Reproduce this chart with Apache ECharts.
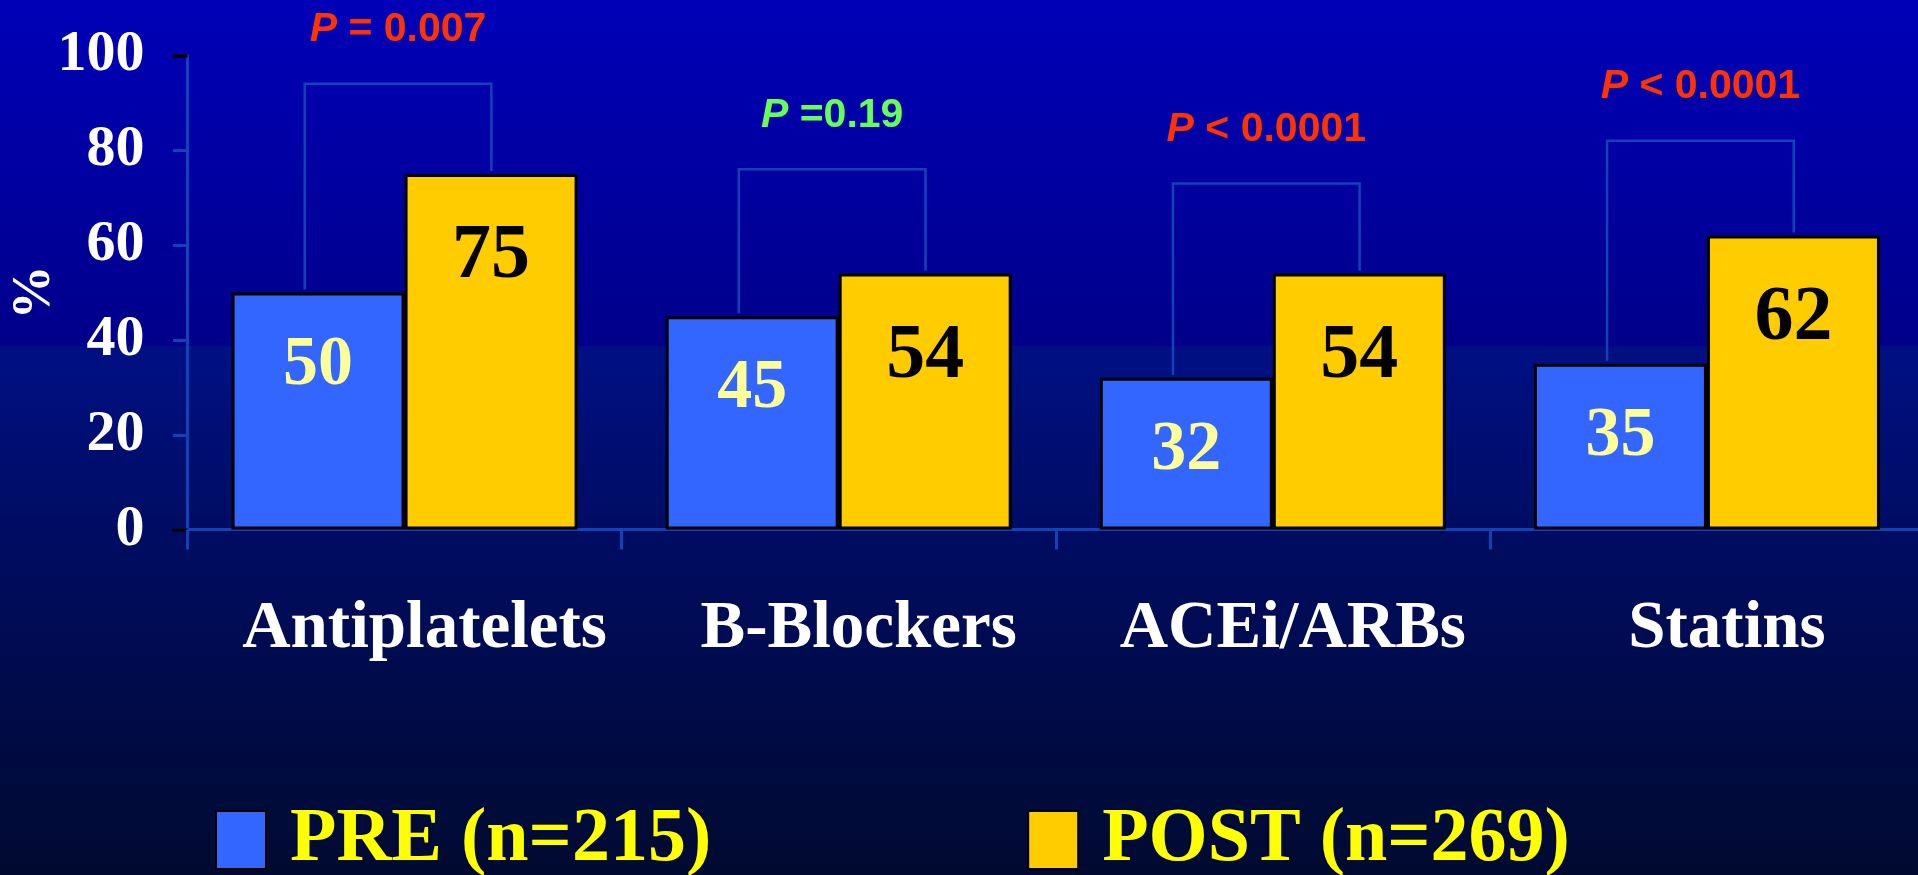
<!DOCTYPE html>
<html>
<head>
<meta charset="utf-8">
<title>Medication use PRE vs POST</title>
<script src="https://cdn.jsdelivr.net/npm/echarts@6/dist/echarts.min.js"></script>
<style>
  html, body { margin: 0; padding: 0; background: #000a30; }
  #chart { width: 1918px; height: 875px; }
</style>
</head>
<body>
<div id="chart"></div>
<script>
// Drug classes on the category axis
const categories = ['Antiplatelets', 'B-Blockers', 'ACEi/ARBs', 'Statins'];
// Percent of patients on each drug class
const preValues = [50, 45, 32, 35];
const postValues = [75, 54, 54, 62];
// Height (in %) of the comparison bracket over each pair
const bracketLevels = [94, 76, 73, 82];
// P-value annotations
const pTexts = [' = 0.007', ' =0.19', ' < 0.0001', ' < 0.0001'];
const significant = [true, false, true, true];
// Value-axis ticks
const yTicks = [0, 20, 40, 60, 80, 100];
// Legend names
const seriesNames = ['PRE (n=215)', 'POST (n=269)'];

const SERIF = '"Liberation Serif", "Times New Roman", serif';
const SANS = '"Liberation Sans", Arial, sans-serif';
const AXIS_BLUE = '#1142b8';

const chart = echarts.init(document.getElementById('chart'), null, { renderer: 'canvas' });

const bracketData = categories.map((c, i) => [i, preValues[i], postValues[i], bracketLevels[i], i]);

function renderBracket(params, api) {
  const idx = api.value(0);
  const k = api.value(4);
  const center = api.coord([idx, 0]);
  const band = api.size([1, 0])[0];
  const xl = center[0] - band * 0.23;
  const xr = center[0] + band * 0.2;
  const yTop = api.coord([idx, api.value(3)])[1];
  const yPre = api.coord([idx, api.value(1)])[1];
  const yPost = api.coord([idx, api.value(2)])[1];
  const color = significant[k] ? '#ff3300' : '#66ff55';
  const base = { fontFamily: SANS, fontWeight: 'bold', fontSize: 41, fill: color };
  return {
    type: 'group',
    children: [
      {
        type: 'polyline',
        shape: { points: [[xl, yPre - 3], [xl, yTop], [xr, yTop], [xr, yPost - 3]] },
        style: { stroke: AXIS_BLUE, lineWidth: 2.5, fill: null }
      },
      {
        type: 'text',
        style: {
          x: (xl + xr) / 2,
          y: yTop - 54,
          text: '{i|P}{r|' + pTexts[k] + '}',
          align: 'center',
          verticalAlign: 'middle',
          rich: {
            i: Object.assign({}, base, { fontStyle: 'italic' }),
            r: Object.assign({}, base)
          }
        }
      }
    ]
  };
}

const option = {
  animation: false,
  backgroundColor: {
    type: 'linear', x: 0, y: 0, x2: 0, y2: 1,
    colorStops: [
      { offset: 0, color: '#0000b8' },
      { offset: 0.395, color: '#00008a' },
      { offset: 0.396, color: '#001084' },
      { offset: 0.606, color: '#000c62' },
      { offset: 1, color: '#000a30' }
    ]
  },
  grid: {
    left: 187.5, right: -6, top: 55.4, bottom: 345.4,
    containLabel: false, outerBoundsMode: 'none'
  },
  legend: {
    data: seriesNames,
    left: 215,
    top: 802,
    padding: 0,
    itemWidth: 50,
    itemHeight: 58,
    itemGap: 316,
    icon: 'rect',
    textStyle: {
      color: '#ffff00', fontFamily: SERIF, fontWeight: 'bold', fontSize: 76,
      padding: [0, 0, 0, 19]
    }
  },
  xAxis: {
    type: 'category',
    data: categories,
    axisLine: { lineStyle: { color: AXIS_BLUE, width: 3 } },
    axisTick: { show: true, length: 20, alignWithLabel: false, interval: 0, lineStyle: { color: AXIS_BLUE, width: 3 } },
    axisLabel: {
      interval: 0, hideOverlap: false,
      color: '#ffffff', fontFamily: SERIF, fontWeight: 'bold', fontSize: 67,
      margin: 67, padding: [0, 0, 0, 40]
    },
    splitLine: { show: false }
  },
  yAxis: [
    {
      type: 'value',
      min: yTicks[0],
      max: yTicks[yTicks.length - 1],
      interval: yTicks[1] - yTicks[0],
      name: '%',
      nameLocation: 'middle',
      nameGap: 125,
      nameRotate: 90,
      nameMoveOverlap: false,
      nameTextStyle: { color: '#ffffff', fontFamily: SERIF, fontWeight: 'bold', fontSize: 54 },
      axisLine: { show: true, lineStyle: { color: AXIS_BLUE, width: 3 } },
      axisTick: { show: true, length: 14.5, lineStyle: { color: AXIS_BLUE, width: 3 } },
      axisLabel: {
        color: '#ffffff', fontFamily: SERIF, fontWeight: 'bold', fontSize: 58, margin: 43,
        padding: [10, 0, 0, 0],
        formatter: v => String(v)
      },
      splitLine: { show: false }
    },
    {
      type: 'value',
      position: 'left',
      min: yTicks[0],
      max: yTicks[yTicks.length - 1],
      interval: yTicks[yTicks.length - 1] - yTicks[0],
      axisLine: { show: false },
      axisTick: { show: true, length: 15, lineStyle: { color: '#000000', width: 3.5 } },
      axisLabel: { show: false },
      splitLine: { show: false }
    }
  ],
  series: [
    {
      name: seriesNames[0],
      type: 'bar',
      data: preValues,
      barWidth: 173,
      barGap: '0%',
      itemStyle: { color: '#3366ff', borderColor: '#000000', borderWidth: 3 },
      label: {
        show: true, position: 'insideTop', distance: 38,
        color: '#ffff99', fontFamily: SERIF, fontWeight: 'bold', fontSize: 70
      },
      z: 3
    },
    {
      name: seriesNames[1],
      type: 'bar',
      data: postValues,
      barWidth: 173,
      barGap: '0%',
      itemStyle: { color: '#ffcc00', borderColor: '#000000', borderWidth: 3 },
      label: {
        show: true, position: 'insideTop', distance: 44,
        color: '#000000', fontFamily: SERIF, fontWeight: 'bold', fontSize: 78
      },
      z: 3
    },
    {
      type: 'custom',
      data: bracketData,
      renderItem: renderBracket,
      z: 2,
      silent: true
    }
  ]
};

chart.setOption(option);
</script>
</body>
</html>
